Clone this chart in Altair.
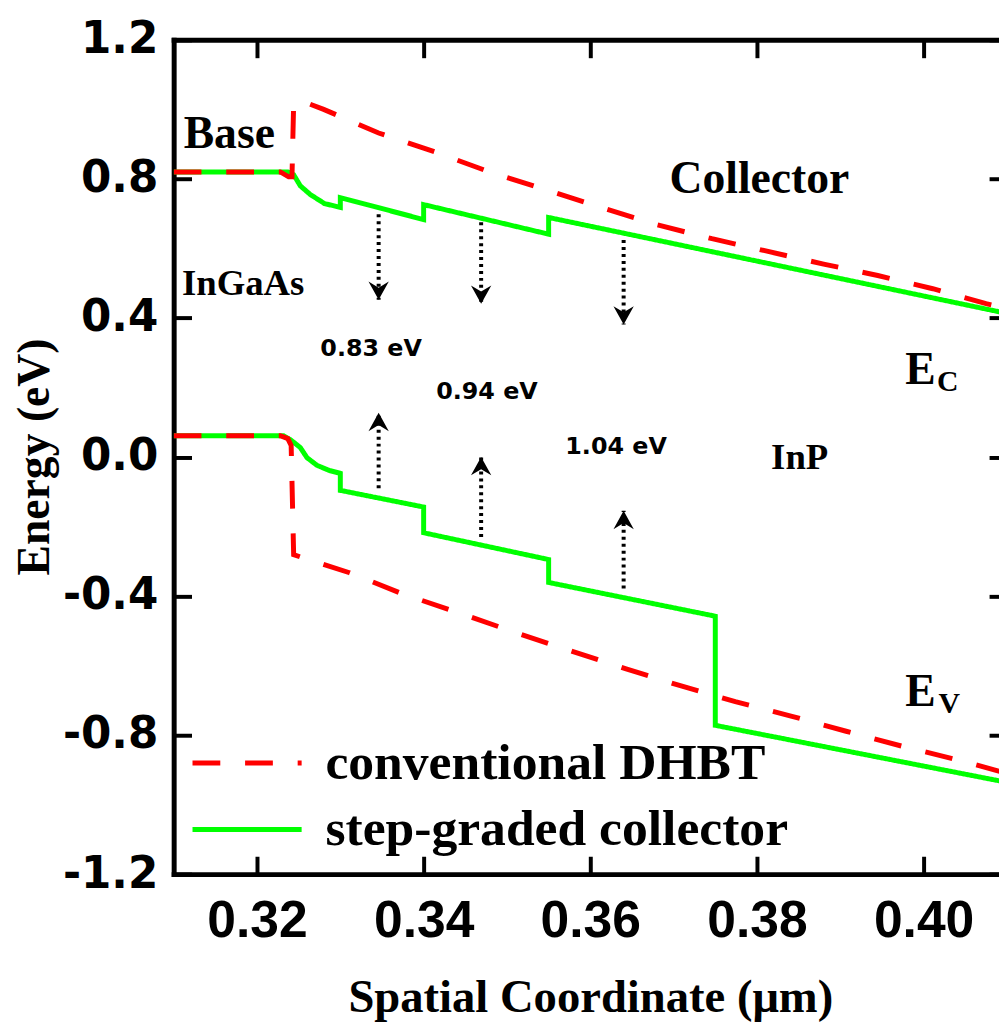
import altair as alt
import pandas as pd

# ---------------- data ----------------
series_names = ["conventional DHBT", "step-graded collector"]

# step-graded collector (green, solid)
green_cb_x = [0.310, 0.3237, 0.3244, 0.3252, 0.3264, 0.3281, 0.330, 0.330, 0.340, 0.340, 0.355, 0.355, 0.410]
green_cb_y = [0.820, 0.820, 0.812, 0.780, 0.755, 0.729, 0.718, 0.746, 0.683, 0.726, 0.641, 0.689, 0.413]
green_vb_x = [0.310, 0.3232, 0.3240, 0.3252, 0.3260, 0.3272, 0.3287, 0.330, 0.330, 0.340, 0.340, 0.355, 0.355, 0.375, 0.375, 0.410]
green_vb_y = [0.061, 0.061, 0.050, 0.027, -0.002, -0.024, -0.039, -0.047, -0.096, -0.144, -0.218, -0.295, -0.361, -0.458, -0.772, -0.936]

# conventional DHBT (red, dashed)
red_cb_x = [0.310, 0.3228, 0.3238, 0.3242, 0.3244, 0.3255, 0.3280, 0.3346, 0.3413, 0.3479, 0.3546, 0.3617,
            0.3680, 0.3746, 0.3812, 0.3880, 0.3945, 0.4011, 0.4075, 0.410]
red_cb_y = [0.820, 0.820, 0.806, 0.806, 1.017, 1.023, 1.000, 0.932, 0.878, 0.820, 0.769, 0.715,
            0.668, 0.628, 0.592, 0.555, 0.522, 0.484, 0.441, 0.427]
red_vb_x = [0.310, 0.3228, 0.3237, 0.3241, 0.3244, 0.3255, 0.3311, 0.3376, 0.3444, 0.3509, 0.3577, 0.3642,
            0.3708, 0.3774, 0.3842, 0.3907, 0.3974, 0.4042, 0.4089, 0.410]
red_vb_y = [0.061, 0.061, 0.053, 0.033, -0.281, -0.290, -0.333, -0.395, -0.450, -0.504, -0.558, -0.609,
            -0.658, -0.704, -0.746, -0.789, -0.832, -0.872, -0.903, -0.910]

# dotted arrows (band-gap markers)
arrow_x = [0.3346, 0.3469, 0.3640]
down_from = [0.698, 0.675, 0.624]
down_tip = [0.452, 0.441, 0.381]
up_from = [-0.090, -0.230, -0.378]
up_tip = [0.127, 0.000, -0.155]

# annotations
big_text = ["Base", "Collector", "E", "E"]
big_x = [0.3112, 0.3695, 0.3978, 0.3978]
big_y = [0.889, 0.7605, 0.2097, -0.7178]
mid_text = ["InGaAs", "InP"]
mid_x = [0.3110, 0.3817]
mid_y = [0.4666, -0.0357]
sub_text = ["C", "V"]
sub_x = [0.4016, 0.4018]
sub_y = [0.1897, -0.7378]
ev_text = ["0.83 eV", "0.94 eV", "1.04 eV"]
ev_x = [0.3276, 0.3415, 0.3570]
ev_y = [0.2896, 0.167, 0.010]

x_ticks = [0.32, 0.34, 0.36, 0.38, 0.40]
y_ticks = [1.2, 0.8, 0.4, 0.0, -0.4, -0.8, -1.2]

# ---------------- tables ----------------
def band(xs, ys, series, name):
    return pd.DataFrame({"x": xs, "y": ys, "series": series, "band": name, "i": list(range(len(xs)))})

green_df = pd.concat([band(green_cb_x, green_cb_y, series_names[1], "Ec"),
                      band(green_vb_x, green_vb_y, series_names[1], "Ev")])
red_df = pd.concat([band(red_cb_x, red_cb_y, series_names[0], "Ec"),
                    band(red_vb_x, red_vb_y, series_names[0], "Ev")])
down_df = pd.DataFrame({"x": arrow_x, "y": down_from, "y2": down_tip})
up_df = pd.DataFrame({"x": arrow_x, "y": up_from, "y2": up_tip})
big_df = pd.DataFrame({"x": big_x, "y": big_y, "t": big_text})
mid_df = pd.DataFrame({"x": mid_x, "y": mid_y, "t": mid_text})
sub_df = pd.DataFrame({"x": sub_x, "y": sub_y, "t": sub_text})
ev_df = pd.DataFrame({"x": ev_x, "y": ev_y, "t": ev_text})

# ---------------- scales & axes ----------------
xs = alt.Scale(domain=[0.31, 0.41], range=[0, 840], nice=False, zero=False)
ys = alt.Scale(domain=[-1.2, 1.2], nice=False, zero=False)
cs = alt.Scale(domain=series_names, range=["#ff0000", "#00ff00"])
ds = alt.Scale(domain=series_names, range=[[28, 25], [1, 0]])

# legend key: a horizontal stroke 5 units wide (scaled by sqrt(size)/2 = 22 px -> 110 px long)
leg = alt.Legend(orient="none", legendX=48, legendY=703, title=None, symbolType="M-2.5,0L2.5,0",
                 symbolSize=1936, symbolStrokeWidth=5, labelFont="Liberation Serif",
                 labelFontSize=52, labelFontWeight="bold", labelColor="black", labelOffset=53,
                 labelLimit=1000, rowPadding=15, padding=0)

left_main = alt.Axis(orient="left", values=y_ticks, ticks=False, tickSize=0, domain=True, domainWidth=5,
                     domainCap="square", domainColor="black", grid=False, labelFont="DejaVu Sans",
                     labelFontSize=44, labelFontWeight="bold", labelColor="black", labelPadding=16,
                     labelOverlap=False, labelFlush=False,
                     labelExpr="(datum.value < 0 ? '-' : '') + format(abs(datum.value), '.1f')",
                     title="Energy (eV)", titleFont="Liberation Serif", titleFontSize=46,
                     titleFontWeight="bold", titleColor="black", titleAngle=270, titleAlign="center",
                     titleBaseline="middle", titleX=-140, titleY=420)
bottom_main = alt.Axis(orient="bottom", values=x_ticks, ticks=False, tickSize=0, domain=True, domainWidth=5,
                       domainCap="square", domainColor="black", grid=False, labelFont="Liberation Sans",
                       labelFontSize=52, labelFontWeight="bold", labelColor="black", labelPadding=22,
                       labelOverlap=False, labelFlush=False, format=".2f",
                       title="Spatial Coordinate (\u03bcm)", titleFont="Liberation Serif", titleFontSize=47,
                       titleFontWeight="bold", titleColor="black", titleAlign="center",
                       titleBaseline="alphabetic", titleX=420, titleY=138)
top_frame = alt.Axis(orient="top", values=x_ticks, ticks=False, labels=False, domain=True, domainWidth=5,
                     domainCap="square", domainColor="black", grid=False, title="")


def tick_axis(orient, values, offset=-18):
    return alt.Axis(orient=orient, values=values, ticks=True, tickSize=18, tickWidth=4, tickColor="black",
                    labels=False, domain=False, grid=False, title="", offset=offset)


# ---------------- layers ----------------
green_layer = alt.Chart(green_df).mark_line(strokeWidth=5, clip=True).encode(
    x=alt.X("x:Q", scale=xs, axis=bottom_main),
    y=alt.Y("y:Q", scale=ys, axis=left_main),
    color=alt.Color("series:N", scale=cs, legend=leg),
    strokeDash=alt.StrokeDash("series:N", scale=ds, legend=leg),
    detail="band:N",
    order="i:Q",
)
red_layer = alt.Chart(red_df).mark_line(strokeWidth=5, clip=True).encode(
    x=alt.X("x:Q", scale=xs, axis=top_frame),
    y=alt.Y("y:Q", scale=ys, axis=None),
    color=alt.Color("series:N", scale=cs, legend=leg),
    strokeDash=alt.StrokeDash("series:N", scale=ds, legend=leg),
    detail="band:N",
    order="i:Q",
)
down_rules = alt.Chart(down_df).mark_rule(color="black", strokeWidth=4, strokeDash=[3, 4]).encode(
    x=alt.X("x:Q", scale=xs, axis=tick_axis("bottom", x_ticks)),
    y=alt.Y("y:Q", scale=ys, axis=tick_axis("left", y_ticks)),
    y2="y2:Q",
)
up_rules = alt.Chart(up_df).mark_rule(color="black", strokeWidth=4, strokeDash=[3, 4]).encode(
    x=alt.X("x:Q", scale=xs, axis=tick_axis("top", x_ticks)),
    y=alt.Y("y:Q", scale=ys, axis=tick_axis("right", y_ticks, offset=-10)),
    y2="y2:Q",
)
down_heads = alt.Chart(down_df).mark_point(shape="M0,0L-1,-1.8L0,-1.2L1,-1.8Z", filled=True, size=420,
                                           color="black", opacity=1).encode(
    x=alt.X("x:Q", scale=xs, axis=None), y=alt.Y("y2:Q", scale=ys, axis=None))
up_heads = alt.Chart(up_df).mark_point(shape="M0,0L-1,1.8L0,1.2L1,1.8Z", filled=True, size=420,
                                       color="black", opacity=1).encode(
    x=alt.X("x:Q", scale=xs, axis=None), y=alt.Y("y2:Q", scale=ys, axis=None))


def text_layer(df, font, size, weight="bold"):
    return alt.Chart(df).mark_text(align="left", baseline="alphabetic", font=font, fontSize=size,
                                   fontWeight=weight, color="black").encode(
        x=alt.X("x:Q", scale=xs, axis=None), y=alt.Y("y:Q", scale=ys, axis=None), text="t:N")


chart = alt.layer(
    green_layer, red_layer, down_rules, up_rules, down_heads, up_heads,
    text_layer(big_df, "Liberation Serif", 46),
    text_layer(mid_df, "Liberation Serif", 37),
    text_layer(sub_df, "Liberation Serif", 30),
    text_layer(ev_df, "DejaVu Sans", 24),
).resolve_axis(x="independent", y="independent").properties(
    width=832, height=841,
    padding={"left": 167, "top": 28, "right": 0, "bottom": 148},
    autosize=alt.AutoSizeParams(type="none"),
    background="white",
).configure_view(strokeOpacity=0)

chart.save("out.html", embed_options={"renderer": "svg", "actions": False})
